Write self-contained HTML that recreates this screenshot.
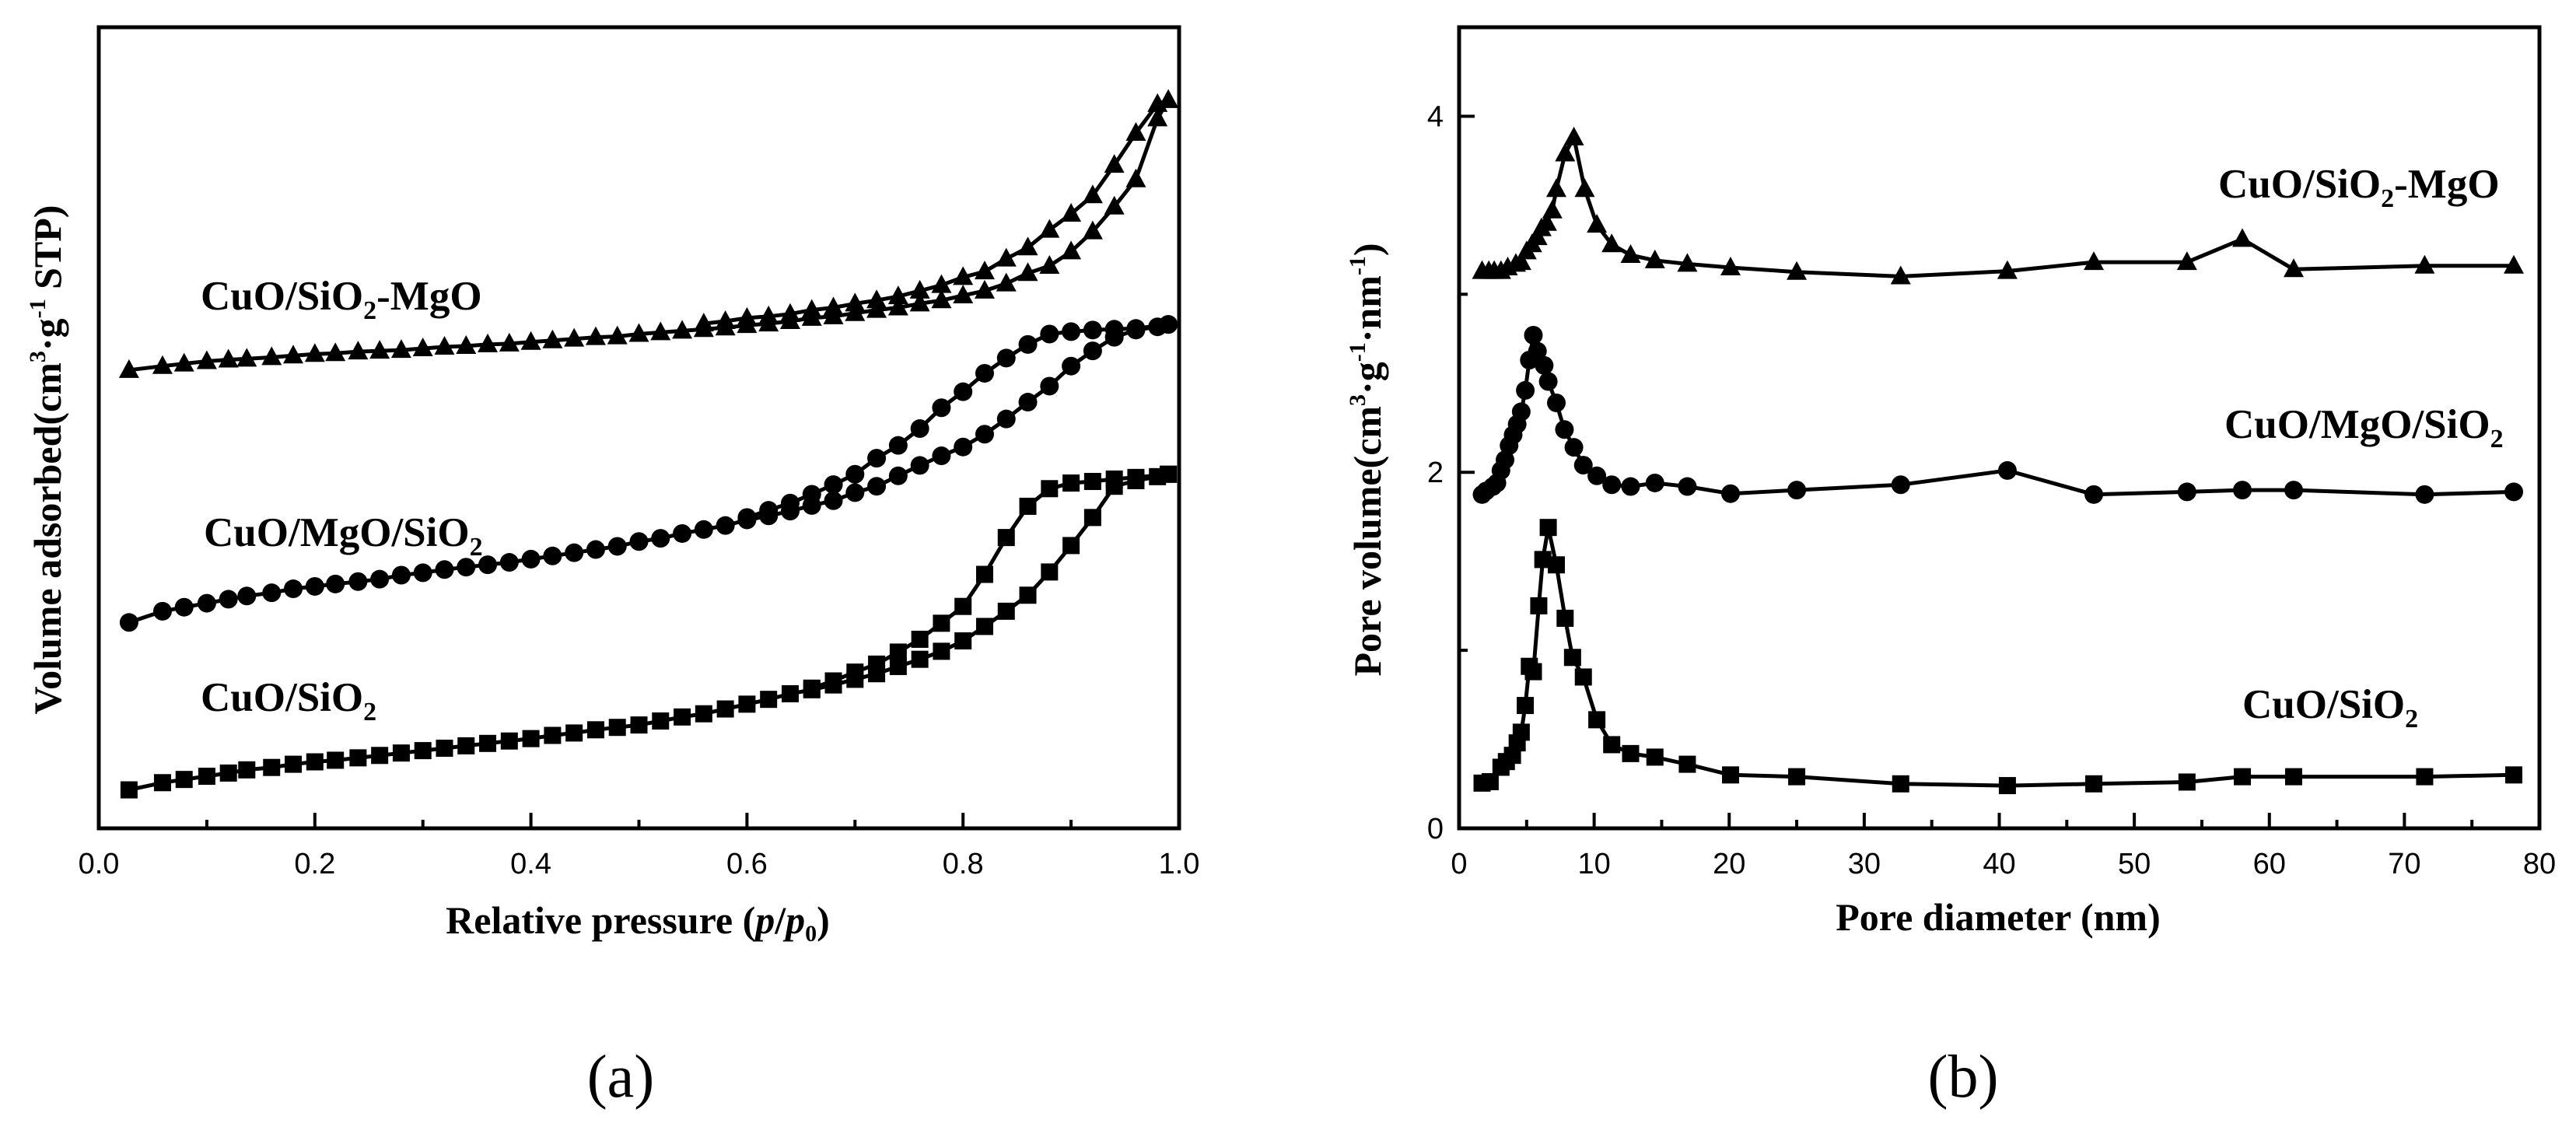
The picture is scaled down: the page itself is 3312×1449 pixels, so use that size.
<!DOCTYPE html>
<html><head><meta charset="utf-8"><style>
html,body{margin:0;padding:0;background:#fff;}
svg{display:block;}
.tick{font-family:"Liberation Sans",Arial,sans-serif;font-size:38px;fill:#000;}
.ttl{font-family:"Liberation Serif","Times New Roman",serif;font-weight:bold;font-size:50px;fill:#000;}
.lab{font-family:"Liberation Serif","Times New Roman",serif;font-weight:bold;font-size:53px;fill:#000;}
.cap{font-family:"Liberation Serif","Times New Roman",serif;font-size:78px;fill:#000;}
</style></head><body>
<svg id="fig" width="3312" height="1449" viewBox="0 0 3312 1449" xmlns="http://www.w3.org/2000/svg">
<g id="pa"></g>
<g id="pb"></g>
<text class="cap" x="798" y="1410" text-anchor="middle">(a)</text>
<text class="cap" x="2524" y="1410" text-anchor="middle">(b)</text>
</svg>
<script>
// ---------- Panel (a) data ----------
const aAdsX = [0.028,0.059,0.079,0.10,0.12,0.137,0.16,0.18,0.20,0.219,0.24,0.26,0.28,0.30,0.32,0.34,0.36,0.38,0.40,0.42,0.44,0.46,0.48,0.50,0.52,0.54,0.56,0.58,0.60,0.62,0.64,0.66,0.68,0.70,0.72,0.74,0.76,0.78,0.80,0.82,0.84,0.86,0.88,0.90,0.92,0.94,0.96,0.98,0.99];
const sqAds = [4.8,5.7,6.1,6.5,6.9,7.3,7.6,8.0,8.3,8.5,8.8,9.1,9.4,9.7,10.0,10.3,10.6,10.9,11.2,11.6,11.9,12.3,12.6,12.9,13.4,13.9,14.3,14.9,15.5,16.1,16.8,17.3,17.9,18.6,19.3,20.2,21.1,22.1,23.4,25.2,27.1,29.1,32.0,35.3,38.8,42.7,43.4,43.9,44.2];
const sqDesX = [0.99,0.96,0.94,0.92,0.90,0.88,0.86,0.84,0.82,0.80,0.78,0.76,0.74,0.72,0.70,0.68,0.66];
const sqDes = [44.2,43.8,43.6,43.3,43.1,42.4,40.2,36.3,31.7,27.7,25.6,23.6,22.0,20.5,19.5,18.4,17.5];
const ciAds = [25.7,27.1,27.6,28.1,28.6,29.0,29.4,29.9,30.2,30.5,30.8,31.1,31.6,31.9,32.3,32.6,32.9,33.2,33.6,34.0,34.4,34.8,35.2,35.8,36.2,36.8,37.3,37.8,38.5,39.0,39.6,40.3,40.9,41.9,42.7,44.0,45.3,46.5,47.6,49.2,51.1,53.2,55.2,57.7,59.6,61.3,62.2,62.6,62.9];
const ciDesX = [0.99,0.96,0.94,0.92,0.90,0.88,0.86,0.84,0.82,0.80,0.78,0.76,0.74,0.72,0.70,0.68,0.66,0.64,0.62,0.60];
const ciDes = [62.9,62.4,62.3,62.2,62.0,61.7,60.4,58.7,56.8,54.5,52.5,49.9,47.8,46.2,44.2,42.9,41.7,40.6,39.7,38.8];
const trAds = [57.2,57.7,58.0,58.3,58.5,58.6,58.8,59.0,59.2,59.3,59.5,59.6,59.7,59.9,60.1,60.2,60.4,60.5,60.7,60.9,61.1,61.3,61.4,61.7,61.9,62.1,62.3,62.5,62.8,63.0,63.3,63.7,63.9,64.3,64.7,65.0,65.5,65.9,66.5,67.1,68.0,69.3,70.2,72.0,74.5,77.6,81.0,88.6,90.9];
const trDesX = [0.99,0.98,0.96,0.94,0.92,0.90,0.88,0.86,0.84,0.82,0.80,0.78,0.76,0.74,0.72,0.70,0.68,0.66,0.64,0.62,0.60,0.58,0.56];
const trDes = [90.9,90.4,86.8,82.8,79.0,76.7,74.7,72.5,71.1,69.5,68.8,67.8,67.1,66.4,65.9,65.5,65.0,64.7,64.2,63.9,63.7,63.3,63.0];
const aTickLabels = ["0.0","0.2","0.4","0.6","0.8","1.0"];
const aTickVals = [0,0.2,0.4,0.6,0.8,1.0];
const aMinorVals = [0.1,0.3,0.5,0.7,0.9];

// ---------- Panel (b) data ----------
const bSqX = [1.7,2.3,3.1,3.5,3.95,4.3,4.6,4.9,5.2,5.5,5.9,6.2,6.6,7.2,7.85,8.4,9.2,10.2,11.3,12.7,14.5,16.9,20.1,25.0,32.7,40.6,47.0,53.9,58.0,61.8,71.5,78.1];
const bSqY = [0.254,0.262,0.343,0.375,0.41,0.48,0.54,0.69,0.91,0.88,1.25,1.51,1.69,1.48,1.18,0.96,0.85,0.61,0.47,0.42,0.40,0.36,0.30,0.29,0.25,0.24,0.25,0.26,0.29,0.29,0.29,0.30];
const bCiX = [1.7,2.0,2.5,2.8,3.1,3.4,3.7,4.0,4.3,4.6,4.9,5.2,5.5,5.8,6.3,6.6,7.2,7.8,8.5,9.2,10.2,11.3,12.7,14.5,16.9,20.1,25.0,32.7,40.6,47.0,53.9,58.0,61.8,71.5,78.1];
const bCiY = [1.875,1.895,1.92,1.94,2.01,2.07,2.15,2.21,2.27,2.34,2.46,2.63,2.77,2.68,2.60,2.51,2.39,2.24,2.14,2.04,1.98,1.93,1.92,1.94,1.92,1.88,1.90,1.93,2.01,1.875,1.89,1.90,1.90,1.875,1.89];
const bTrX = [1.7,2.2,2.6,3.1,3.6,4.2,4.6,5.0,5.4,5.8,6.1,6.5,6.9,7.2,7.85,8.5,9.3,10.2,11.3,12.7,14.5,16.9,20.1,25.0,32.7,40.6,47.0,53.9,58.0,61.8,71.5,78.1];
const bTrY = [3.13,3.13,3.13,3.13,3.15,3.17,3.18,3.24,3.28,3.32,3.37,3.40,3.47,3.59,3.79,3.88,3.59,3.39,3.28,3.22,3.19,3.17,3.15,3.125,3.10,3.13,3.18,3.18,3.31,3.14,3.16,3.16];
const bXTickVals = [0,10,20,30,40,50,60,70,80];
const bXTickLabels = ["0","10","20","30","40","50","60","70","80"];
const bXMinorVals = [5,15,25,35,45,55,65,75];
const bYTickVals = [0,2,4];
const bYTickLabels = ["0","2","4"];
const bYMinorVals = [1,3];

const NS = "http://www.w3.org/2000/svg";
function mk(parent, tag, attrs){ const e=document.createElementNS(NS,tag); for(const k in attrs) e.setAttribute(k,attrs[k]); parent.appendChild(e); return e; }

const A = {l:127,r:1516,t:35,b:1065,xmin:0,xmax:1,ymin:0,ymax:100};
const B = {l:1876,r:3265,t:35,b:1065,xmin:0,xmax:80,ymin:0,ymax:4.5};
function sx(P,v){ return P.l + (v-P.xmin)/(P.xmax-P.xmin)*(P.r-P.l); }
function sy(P,v){ return P.b - (v-P.ymin)/(P.ymax-P.ymin)*(P.b-P.t); }

function series(g, P, xs, ys, shape, name){
  const sg = mk(g,'g',{});
  
  
  const pts = xs.map((x,i)=>sx(P,x).toFixed(1)+','+sy(P,ys[i]).toFixed(1)).join(' ');
  const pl = mk(sg,'polyline',{points:pts,fill:'none',stroke:'#000','stroke-width':5,'stroke-linejoin':'round'});
  
  
  xs.forEach((x,i)=>{
    const cx=sx(P,x), cy=sy(P,ys[i]); let m;
    if(shape==='sq') m = mk(sg,'rect',{x:cx-11,y:cy-11,width:22,height:22,fill:'#000'});
    else if(shape==='ci') m = mk(sg,'circle',{cx:cx,cy:cy,r:12,fill:'#000'});
    else m = mk(sg,'polygon',{points:`${cx},${cy-14} ${cx-13},${cy+10} ${cx+13},${cy+10}`,fill:'#000'});
    
    
  });
}

function frame(g,P,name){
  const f = mk(g,'rect',{x:P.l,y:P.t,width:P.r-P.l,height:P.b-P.t,fill:'none',stroke:'#000','stroke-width':5});
  
  
}

const ga = document.getElementById('pa');
frame(ga,A,'panel-a-frame');
aTickVals.forEach((v,i)=>{
  const x=sx(A,v);
  const t=mk(ga,'line',{x1:x,y1:A.b,x2:x,y2:A.b-20,stroke:'#000','stroke-width':4});
  
  
  const tx=mk(ga,'text',{x:x,y:A.b+58,'text-anchor':'middle',class:'tick'});
  tx.textContent=aTickLabels[i];
  
  
});
aMinorVals.forEach(v=>{
  const x=sx(A,v);
  const t=mk(ga,'line',{x1:x,y1:A.b,x2:x,y2:A.b-11,stroke:'#000','stroke-width':4});
  
  
});
series(ga,A,aAdsX,sqAds,'sq','cuo-sio2-adsorption');
series(ga,A,sqDesX,sqDes,'sq','cuo-sio2-desorption');
series(ga,A,aAdsX,ciAds,'ci','cuo-mgo-sio2-adsorption');
series(ga,A,ciDesX,ciDes,'ci','cuo-mgo-sio2-desorption');
series(ga,A,aAdsX,trAds,'tr','cuo-sio2-mgo-adsorption');
series(ga,A,trDesX,trDes,'tr','cuo-sio2-mgo-desorption');

const gb = document.getElementById('pb');
frame(gb,B,'panel-b-frame');
bXTickVals.forEach((v,i)=>{
  const x=sx(B,v);
  const t=mk(gb,'line',{x1:x,y1:B.b,x2:x,y2:B.b-20,stroke:'#000','stroke-width':4});
  
  
  const tx=mk(gb,'text',{x:x,y:B.b+58,'text-anchor':'middle',class:'tick'});
  tx.textContent=bXTickLabels[i];
  
  
});
bXMinorVals.forEach(v=>{
  const x=sx(B,v);
  const t=mk(gb,'line',{x1:x,y1:B.b,x2:x,y2:B.b-11,stroke:'#000','stroke-width':4});
  
  
});
bYTickVals.forEach((v,i)=>{
  const y=sy(B,v);
  const t=mk(gb,'line',{x1:B.l,y1:y,x2:B.l+20,y2:y,stroke:'#000','stroke-width':4});
  
  
  const tx=mk(gb,'text',{x:B.l-20,y:y+13,'text-anchor':'end',class:'tick'});
  tx.textContent=bYTickLabels[i];
  
  
});
bYMinorVals.forEach(v=>{
  const y=sy(B,v);
  const t=mk(gb,'line',{x1:B.l,y1:y,x2:B.l+11,y2:y,stroke:'#000','stroke-width':4});
  
  
});
series(gb,B,bSqX,bSqY,'sq','cuo-sio2-psd');
series(gb,B,bCiX,bCiY,'ci','cuo-mgo-sio2-psd');
series(gb,B,bTrX,bTrY,'tr','cuo-sio2-mgo-psd');
</script>
<svg width="3312" height="1449" viewBox="0 0 3312 1449" style="position:absolute;left:0;top:0" xmlns="http://www.w3.org/2000/svg">
<text class="ttl" x="820" y="1200" text-anchor="middle">Relative pressure (<tspan font-style="italic">p</tspan>/<tspan font-style="italic">p</tspan><tspan font-size="30" dy="10">0</tspan><tspan dy="-10">)</tspan></text>
<text class="ttl" transform="translate(78,591) rotate(-90)" text-anchor="middle">Volume adsorbed(cm<tspan font-size="30" dy="-20">3</tspan><tspan dy="20">·g</tspan><tspan font-size="30" dy="-20">-1</tspan><tspan dy="20"> STP)</tspan></text>
<text class="lab" x="258" y="398">CuO/SiO<tspan font-size="34" dy="12">2</tspan><tspan dy="-12">-MgO</tspan></text>
<text class="lab" x="262" y="702">CuO/MgO/SiO<tspan font-size="34" dy="12">2</tspan></text>
<text class="lab" x="258" y="914">CuO/SiO<tspan font-size="34" dy="12">2</tspan></text>
<text class="ttl" x="2569" y="1196" text-anchor="middle">Pore diameter (nm)</text>
<text class="ttl" transform="translate(1775,591) rotate(-90)" text-anchor="middle">Pore volume(cm<tspan font-size="30" dy="-20">3</tspan><tspan dy="20">·g</tspan><tspan font-size="30" dy="-20">-1</tspan><tspan dy="20">·nm</tspan><tspan font-size="30" dy="-20">-1</tspan><tspan dy="20">)</tspan></text>
<text class="lab" x="2852" y="254">CuO/SiO<tspan font-size="34" dy="12">2</tspan><tspan dy="-12">-MgO</tspan></text>
<text class="lab" x="2860" y="563">CuO/MgO/SiO<tspan font-size="34" dy="12">2</tspan></text>
<text class="lab" x="2883" y="923">CuO/SiO<tspan font-size="34" dy="12">2</tspan></text>
</svg>
</body></html>
